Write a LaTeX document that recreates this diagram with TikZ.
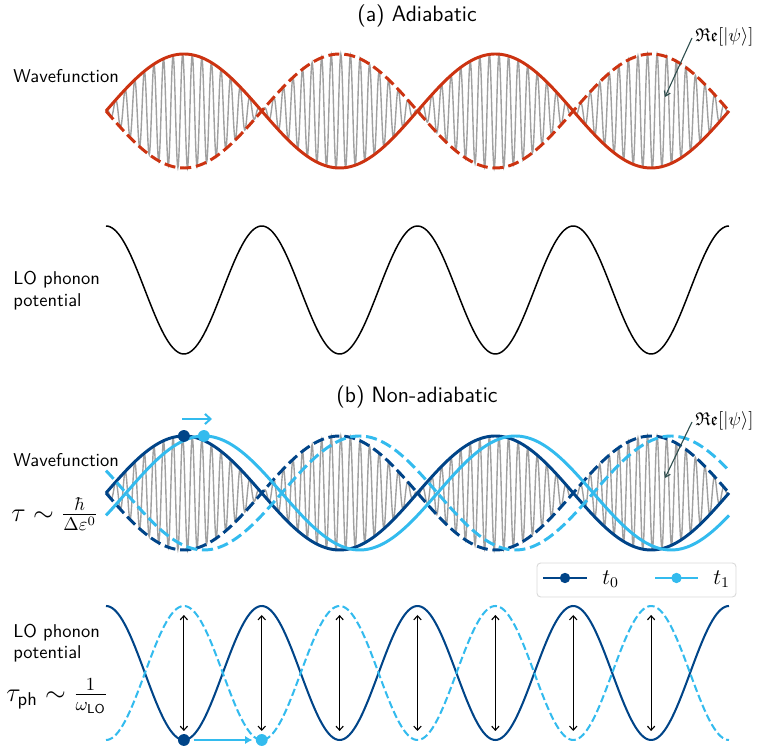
\documentclass[tikz,border=0pt]{standalone}
\usepackage{amsmath,amssymb}
\usepackage{fontspec}
\usetikzlibrary{arrows.meta}
\definecolor{tolred}{HTML}{CC3311}
\definecolor{toldark}{HTML}{004488}
\definecolor{tolcyan}{HTML}{33BBEE}
\definecolor{wgray}{HTML}{A0A0A0}
\definecolor{annot}{HTML}{2F4F4F}
\definecolor{legframe}{HTML}{D9D9D9}
\begin{document}
\begin{tikzpicture}[x=0.54pt,y=-0.54pt,
  lbl/.style={font=\sffamily, anchor=base west, inner sep=0pt},
  ttl/.style={font=\sffamily\large, inner sep=0pt},
  mathlbl/.style={font=\Large, anchor=base west, inner sep=0pt},
  env/.style={line width=1.6pt, line join=round},
  envd/.style={env, dash pattern=on 6pt off 2.6pt},
  carrier/.style={wgray, line width=0.75pt},
  phon/.style={black, line width=0.8pt},
  phonb/.style={line width=1.1pt},
  phonbd/.style={phonb, dash pattern=on 4pt off 1.8pt},
  dblarrow/.style={black, line width=0.6pt, {Straight Barb[length=2.2pt,width=4pt]}-{Straight Barb[length=2.2pt,width=4pt]}},
  dot/.style={circle, inner sep=0pt, minimum size=6.4pt},
  annotarrow/.style={annot, line width=0.6pt, -{Straight Barb[length=2.5pt,width=3.5pt]}},
  legbox/.style={draw=legframe, fill=white, line width=0.5pt, rounded corners=2pt}
]
\useasboundingbox (0,0) rectangle (758,749);

% ---------------- titles
\node[ttl] (ta) at (417,16) {(a) Adiabatic};
\node[ttl] (tb) at (417,397) {(b) Non-adiabatic};

% ---------------- panel (a) wavefunction
\draw[carrier] plot[domain=0:623, samples=1500] ({106+\x},{111-57*sin(\x*1.155698)*cos(mod(\x,9.585)*37.559)});
\draw[env, tolred] plot[domain=0:623, samples=240] ({106+\x},{111-57*sin(\x*1.155698)});
\draw[envd, tolred] plot[domain=0:623, samples=240] ({106+\x},{111+57*sin(\x*1.155698)});

\node[lbl] (wa) at (13,83) {Wavefunction};
\node[inner sep=0pt, anchor=west] (rea) at (695,37) {$\mathfrak{Re}[|\psi\rangle]$};
\coordinate (ras) at (692,38);
\coordinate (rae) at (665,97);
\draw[annotarrow] (ras) -- (rae);

% ---------------- panel (a) phonon
\draw[phon] plot[domain=0:623, samples=300] ({106+\x},{290-64*cos(\x*2.311396)});
\node[lbl] (la1) at (13,285) {LO phonon};
\node[lbl] (la2) at (13,307) {potential};

% ---------------- panel (b) wavefunction
\draw[carrier] plot[domain=0:623, samples=1500] ({106+\x},{493-57*sin(\x*1.155698)*cos(mod(\x,9.585)*37.559)});
\draw[env, toldark] plot[domain=0:623, samples=240] ({106+\x},{493-57*sin(\x*1.155698)});
\draw[envd, toldark] plot[domain=0:623, samples=240] ({106+\x},{493+57*sin(\x*1.155698)});
\draw[env, tolcyan] plot[domain=0:623, samples=240] ({106+\x},{493-57*sin((\x-20)*1.155698)});
\draw[envd, tolcyan] plot[domain=0:623, samples=240] ({106+\x},{493+57*sin((\x-20)*1.155698)});

\node[dot, fill=toldark] (wd0) at (183.9,436) {};
\node[dot, fill=tolcyan] (wd1) at (203.9,436) {};
\coordinate (sa) at (182,419);
\coordinate (sb) at (212,419);
\draw[tolcyan, line width=1.1pt, -{Straight Barb[length=3pt,width=5.5pt]}] (sa) -- (sb);

\node[lbl] (wb) at (13,467) {Wavefunction};
\node[mathlbl] (taub) at (11,521.5) {$\tau\sim\frac{\hbar}{\Delta\varepsilon^0}$};
\node[inner sep=0pt, anchor=west] (reb) at (695,421) {$\mathfrak{Re}[|\psi\rangle]$};
\coordinate (rbs) at (692,422);
\coordinate (rbe) at (665,478);
\draw[annotarrow] (rbs) -- (rbe);

% legend
\draw[legbox] (537,563) rectangle (736,597);
\coordinate (l0a) at (543,578);
\coordinate (l0b) at (587,578);
\draw[toldark, line width=1.6pt] (l0a) -- (l0b);
\node[dot, fill=toldark, minimum size=5.6pt] (l0d) at (565,578) {};
\node[anchor=west, inner sep=0pt, font=\large] (l0t) at (602,579) {$t_0$};
\coordinate (l1a) at (655,578);
\coordinate (l1b) at (698,578);
\draw[tolcyan, line width=1.6pt] (l1a) -- (l1b);
\node[dot, fill=tolcyan, minimum size=5.6pt] (l1d) at (676.5,578) {};
\node[anchor=west, inner sep=0pt, font=\large] (l1t) at (713,579) {$t_1$};

% ---------------- panel (b) phonon
\draw[phonb, toldark] plot[domain=0:623, samples=300] ({106+\x},{673-67*cos(\x*2.311396)});
\draw[phonbd, tolcyan] plot[domain=0:623, samples=300] ({106+\x},{673+67*cos(\x*2.311396)});
\foreach \i in {1,...,7} {
  \coordinate (u\i) at ({106+77.875*\i},615);
  \coordinate (d\i) at ({106+77.875*\i},731);
  \draw[dblarrow] (u\i) -- (d\i);
}
\node[dot, fill=toldark] (pd0) at (183.9,740) {};
\node[dot, fill=tolcyan] (pd1) at (261.75,740) {};
\draw[tolcyan, line width=1.1pt, -{Latex[length=4pt,width=4.5pt]}] ([xshift=1.8pt]pd0.east) -- ([xshift=-1.6pt]pd1.west);

\node[lbl] (lb1) at (13,638) {LO phonon};
\node[lbl] (lb2) at (13,659) {potential};
\node[mathlbl] (tauph) at (6,701.5) {$\tau_{\textsf{ph}}\sim\frac{1}{\omega_{\textsf{LO}}}$};
\end{tikzpicture}
\end{document}
